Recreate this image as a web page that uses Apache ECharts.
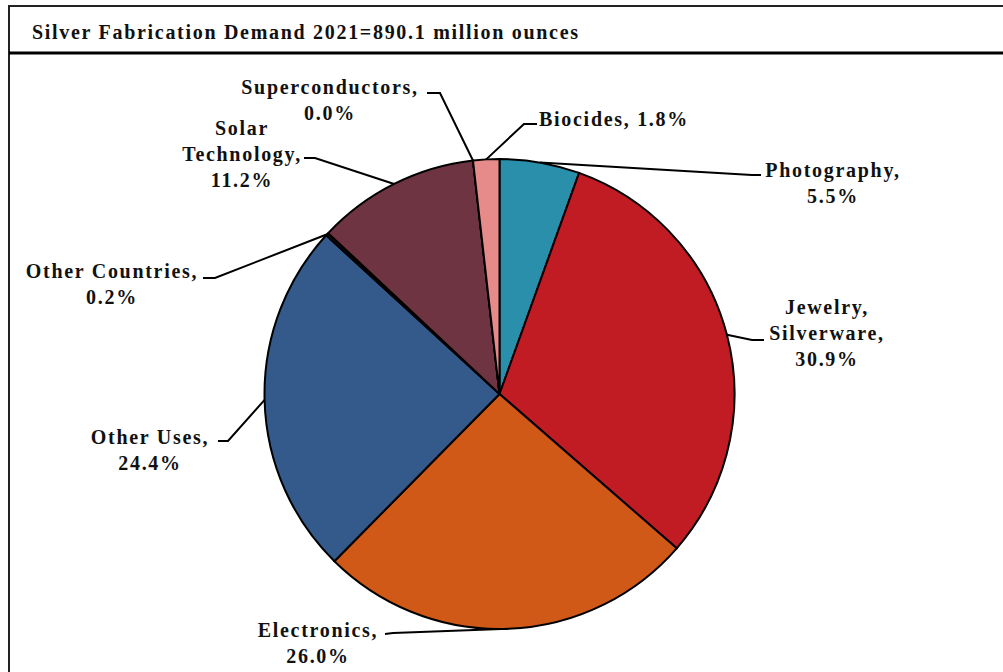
<!DOCTYPE html>
<html>
<head>
<meta charset="utf-8">
<script src="https://cdn.jsdelivr.net/npm/echarts@6/dist/echarts.min.js"></script>
<style>
html,body{margin:0;padding:0;background:#fff;}
#main{width:1003px;height:672px;}
#main text{letter-spacing:1.7px;}
</style>
</head>
<body>
<div id="main"></div>
<script>
// ---- data ----
var titleText = 'Silver Fabrication Demand 2021=890.1 million ounces';
var categories = ['Photography', 'Jewelry,\nSilverware', 'Electronics', 'Other Uses', 'Other Countries', 'Solar\nTechnology', 'Superconductors', 'Biocides'];
var shares = [5.5, 30.9, 26.0, 24.4, 0.2, 11.2, 0.0, 1.8];
var colors = ['#2A8FAA', '#C11B24', '#D05917', '#335A8B', '#111111', '#6E3441', '#B0B0B0', '#E68A8A'];

// ---- label layout (positions only) ----
var labelLayoutCfg = [
  {x: 833, y: 183, elbow: [752, 175], end: [761, 175], sep: ',\n'},
  {x: 827, y: 333, elbow: [752, 340], end: [764, 340], sep: ',\n'},
  {x: 318, y: 643, elbow: [393, 633], end: [385, 634], sep: ',\n'},
  {x: 150, y: 450, elbow: [228, 441], end: [218, 441], sep: ',\n'},
  {x: 112, y: 284, elbow: [215, 278], end: [203, 278], sep: ',\n'},
  {x: 242, y: 154, elbow: [315, 158], end: [304, 158], sep: ',\n'},
  {x: 330, y: 100, elbow: [440, 93], end: [427, 93], sep: ',\n'},
  {x: 614, y: 119, elbow: [524, 124], end: [537, 124], sep: ', '}
];

var fontFam = "'Liberation Serif','Times New Roman',serif";
var chart = echarts.init(document.getElementById('main'), null, {renderer: 'svg'});

var pieData = categories.map(function (c, i) {
  return {name: c, value: shares[i], itemStyle: {color: colors[i]}};
});

chart.setOption({
  backgroundColor: '#fff',
  animation: false,
  title: {
    text: titleText,
    left: 32, top: 22, padding: 0,
    textStyle: {fontFamily: fontFam, fontWeight: 'bold', fontSize: 20, color: '#111'}
  },
  graphic: [
    {type: 'line', shape: {x1: 8, y1: 6, x2: 1003, y2: 6}, style: {stroke: '#222', lineWidth: 2}},
    {type: 'line', shape: {x1: 9, y1: 5, x2: 9, y2: 672}, style: {stroke: '#222', lineWidth: 2}},
    {type: 'line', shape: {x1: 9, y1: 53, x2: 1003, y2: 53}, style: {stroke: '#000', lineWidth: 3}}
  ],
  series: [{
    type: 'pie',
    center: [499.5, 394],
    radius: 235,
    startAngle: 90,
    clockwise: true,
    avoidLabelOverlap: false,
    minShowLabelAngle: -1,
    itemStyle: {borderColor: '#000', borderWidth: 2},
    label: {
      show: true,
      position: 'outside',
      fontFamily: fontFam,
      fontWeight: 'bold',
      fontSize: 20,
      lineHeight: 26,
      color: '#111',
      align: 'center',
      formatter: function (p) {
        return p.name + labelLayoutCfg[p.dataIndex].sep + p.value.toFixed(1) + '%';
      }
    },
    labelLine: {show: true, length: 10, length2: 10, smooth: false, lineStyle: {color: '#000', width: 2}},
    labelLayout: function (params) {
      var cfg = labelLayoutCfg[params.dataIndex];
      var start = params.labelLinePoints ? params.labelLinePoints[0] : cfg.elbow;
      return {
        x: cfg.x, y: cfg.y,
        align: 'center', verticalAlign: 'middle',
        labelLinePoints: [start, cfg.elbow, cfg.end]
      };
    },
    emphasis: {disabled: true},
    data: pieData
  }]
});
</script>
</body>
</html>
